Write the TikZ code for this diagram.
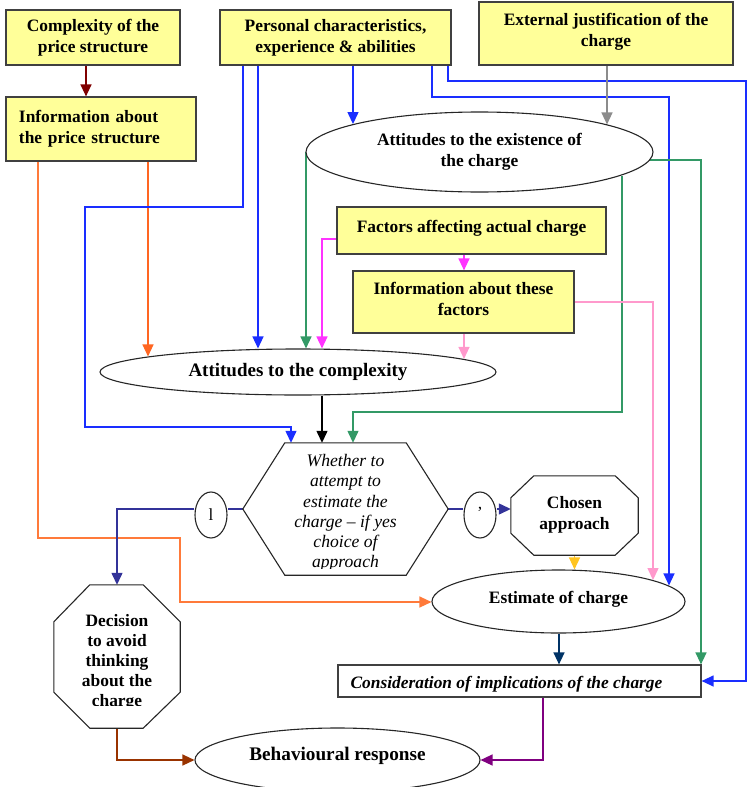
\documentclass[tikz,border=0pt]{standalone}
\usepackage{fontspec}
\setmainfont{Liberation Serif}
\usetikzlibrary{arrows.meta,calc,shapes.geometric}
\pgfdeclarelayer{bg}
\pgfsetlayers{bg,main}
\definecolor{boxyellow}{HTML}{FFFF99}
\definecolor{bordergray}{HTML}{404040}
\definecolor{cDred}{HTML}{800000}
\definecolor{cOrangeA}{HTML}{FF6622}
\definecolor{cOrangeB}{HTML}{FF7A3A}
\definecolor{cBlue}{HTML}{1A2EFF}
\definecolor{cGray}{HTML}{8C8C8C}
\definecolor{cGreen}{HTML}{339966}
\definecolor{cMagenta}{HTML}{FF33FF}
\definecolor{cPink}{HTML}{FF99CC}
\definecolor{cIndigo}{HTML}{333399}
\definecolor{cGold}{HTML}{FFC420}
\definecolor{cNavy}{HTML}{003366}
\definecolor{cBrown}{HTML}{993300}
\definecolor{cPurple}{HTML}{800080}
\begin{document}
\begin{tikzpicture}[x=1pt,y=-1pt,
  every node/.style={font=\fontsize{17.4}{21}\selectfont\bfseries, inner sep=0pt},
  ybox/.style={draw=bordergray, fill=boxyellow, line width=1.2pt, align=center},
  wbox/.style={draw=bordergray, fill=white, line width=1.2pt},
  ell/.style={draw=black!85, ellipse, fill=white, line width=1.1pt, align=center},
  shapeline/.style={draw=black!85, fill=white, line width=1.1pt},
  conn/.style={line width=1.3pt, -{Triangle[width=11pt,length=12pt]}},
  plain/.style={line width=1.3pt}
]
\useasboundingbox (0,0) rectangle (747,787);

% ---------- nodes ----------
\node[ybox, minimum width=174, minimum height=55] (cps) at (93,37.5) {Complexity of the\\price structure};
\node[ybox, minimum width=190, minimum height=64, text width=164pt, align=left] (ips) at (101,129) {Information about\\the price structure};
\node[ybox, minimum width=231, minimum height=55] (pers) at (335.5,37.5) {Personal characteristics,\\experience \& abilities};
\node[ybox, minimum width=254, minimum height=63] (ext) at (606,33.5) {External justification of the\\charge\strut};
\node[ell, minimum width=347, minimum height=80] (exist) at (479.5,152) {Attitudes to the existence of\\the charge};
\node[ybox, minimum width=269, minimum height=47] (fac) at (471.5,230.5) {Factors affecting actual charge\rule[-9pt]{0pt}{0pt}};
\node[ybox, minimum width=221, minimum height=62] (info) at (463.5,302) {Information about these\\factors\strut};
\node[ell, minimum width=396, minimum height=46, font=\fontsize{19}{21}\selectfont\bfseries] (cplx) at (298,372) {Attitudes to the complexity};

% hexagon
\node[minimum width=205, minimum height=132] (hex) at (345.5,509) {};
\draw[shapeline] (hex.west) -- ($(hex.north west)+(42,0)$) -- ($(hex.north east)+(-42,0)$) -- (hex.east)
  -- ($(hex.south east)+(-42,0)$) -- ($(hex.south west)+(42,0)$) -- cycle;
\begin{scope}
  \clip ($(hex.north west)+(0,2)$) rectangle ($(hex.south east)+(0,-7)$);
  \node[font=\fontsize{17.6}{20.2}\selectfont\itshape, align=center] (hextxt) at ($(hex.center)+(0,4)$)
    {Whether to\\attempt to\\estimate the\\charge -- if yes\\choice of\\approach};
\end{scope}

% small ellipses
\node[ell, minimum width=32, minimum height=46, font=\fontsize{17}{20}\selectfont] (s1) at (211,515) {l};
\node[ell, minimum width=32, minimum height=46, font=\fontsize{17}{20}\selectfont] (s2) at (480,515) {\raisebox{5pt}{’}};

% chosen approach octagon
\node[minimum width=127, minimum height=79] (chosen) at (574.5,515.5) {};
\draw[shapeline] ($(chosen.north west)+(23,0)$) -- ($(chosen.north east)+(-23,0)$) -- ($(chosen.north east)+(0,22)$)
  -- ($(chosen.south east)+(0,-22)$) -- ($(chosen.south east)+(-23,0)$) -- ($(chosen.south west)+(23,0)$)
  -- ($(chosen.south west)+(0,-22)$) -- ($(chosen.north west)+(0,22)$) -- cycle;
\node[align=center] (chosentxt) at ($(chosen.center)+(0,-1)$) {Chosen\\approach};

% estimate ellipse
\node[ell, minimum width=253, minimum height=63] (est) at (558.5,601.5) {Estimate of charge\rule[-8pt]{0pt}{0pt}};

% consideration box
\node[wbox, minimum width=363, minimum height=32] (cons) at (519.5,681) {};
\begin{scope}
  \clip ($(cons.north west)+(1,1)$) rectangle ($(cons.south east)+(-1,-6)$);
  \node[font=\fontsize{17.4}{20}\selectfont\bfseries\itshape, anchor=base west] (constxt) at ($(cons.west)+(13,7)$)
    {Consideration of implications of the charge};
\end{scope}

% decision octagon
\node[minimum width=126, minimum height=143] (deci) at (117,656.5) {};
\draw[shapeline] ($(deci.north west)+(36,0)$) -- ($(deci.north east)+(-37,0)$) -- ($(deci.north east)+(0,37)$)
  -- ($(deci.south east)+(0,-36)$) -- ($(deci.south east)+(-37,0)$) -- ($(deci.south west)+(36,0)$)
  -- ($(deci.south west)+(0,-36)$) -- ($(deci.north west)+(0,37)$) -- cycle;
\begin{scope}
  \clip ($(deci.north west)+(0,2)$) rectangle ($(deci.south east)+(0,-23)$);
  \node[align=center, font=\fontsize{17.4}{20}\selectfont\bfseries] (decitxt) at ($(deci.center)+(0,6)$)
    {Decision\\to avoid\\thinking\\about the\\charge};
\end{scope}

% behavioural response
\node[ell, minimum width=285, minimum height=64, font=\fontsize{19.2}{21}\selectfont\bfseries] (beh) at (337.5,760) {Behavioural response\rule[-12pt]{0pt}{0pt}};

% ---------- connectors ----------
\begin{pgfonlayer}{bg}
\draw[conn, cDred] (cps.south -| 86,0) -- (ips.north -| 86,0);
\draw[conn, cOrangeA] (ips.south -| 148,0) -- ($(cplx.north -| 148,0)+(0,8)$);
\draw[conn, cOrangeB] (ips.south -| 38,0) |- (180,538) -- (180,602) -- (est.west |- 0,602);
\draw[conn, cBlue] (pers.south -| 243,0) |- (85,207) |- (291,427) -- (hex.north -| 291,0);
\draw[conn, cBlue] (pers.south -| 258,0) -- (cplx.north -| 258,0);
\draw[conn, cBlue] (pers.south -| 353,0) -- ($(exist.north -| 353,0)+(0,12.6)$);
\draw[conn, cBlue] (pers.south -| 432,0) |- (669,97) -- ($(est.north -| 669,0)+(0,16)$);
\draw[conn, cBlue] (pers.south -| 448,0) |- (746,81) -- (746,681) -- (cons.east |- 0,681);
\draw[conn, cGray] (ext.south -| 607,0) -- ($(exist.north -| 607,0)+(0,13)$);
\draw[conn, cGreen] (exist.west -| 306,0) -- (cplx.north -| 306,0);
\draw[conn, cGreen] ($(exist.south -| 622,0)+(0,-17)$) |- (353,412) -- (hex.north -| 353,0);
\draw[conn, cGreen] ($(exist.east |- 0,160)+(-5,0)$) -- (701,160) -- (cons.north -| 701,0);
\draw[conn, cMagenta] ($(fac.west)+(0,8.5)$) -| (cplx.north -| 322,0);
\draw[conn, cMagenta] (fac.south -| 464,0) -- (info.north -| 464,0);
\draw[conn, cPink] (info.east) -| ($(est.north -| 653,0)+(0,10.6)$);
\draw[conn, cPink] (info.south -| 464,0) -- ($(cplx.north -| 464,0)+(0,10.5)$);
\draw[conn, black] (cplx.south -| 322,0) -- (hex.north -| 322,0);
\draw[plain, cIndigo] (hex.west) -- (hex.west -| s1.east);
\draw[conn, cIndigo] (hex.west -| s1.west) -| (deci.north);
\draw[plain, cIndigo] (hex.east) -- (hex.east -| s2.west);
\draw[conn, cIndigo] (hex.east -| s2.east) -- (hex.east -| chosen.west);
\draw[conn, cGold] (chosen.south) -- (est.north -| chosen.south);
\draw[conn, cNavy] (est.south -| 559,0) -- (cons.north -| 559,0);
\draw[conn, cBrown] (deci.south) |- (beh.west);
\draw[conn, cPurple] (cons.south -| 543,0) |- (beh.east);
\end{pgfonlayer}
\end{tikzpicture}
\end{document}
